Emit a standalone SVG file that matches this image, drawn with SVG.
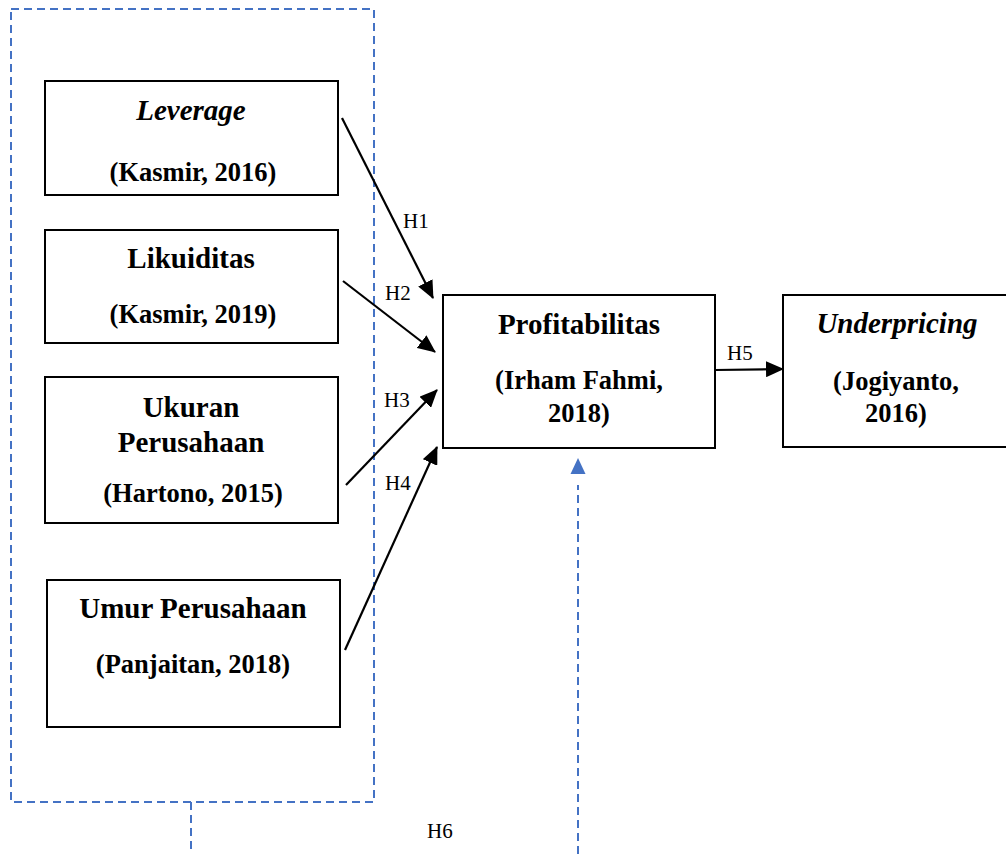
<svg xmlns="http://www.w3.org/2000/svg" width="1006" height="854" viewBox="0 0 1006 854">
<style>
.box{fill:#fff;stroke:#000;stroke-width:2}
.t{font-family:"Liberation Serif","Times New Roman",serif;font-weight:bold;font-size:29px;text-anchor:middle;fill:#000}
.c{font-family:"Liberation Serif","Times New Roman",serif;font-weight:bold;font-size:26.5px;text-anchor:middle;fill:#000}
.i{font-style:italic}
.h{font-family:"Liberation Serif","Times New Roman",serif;font-size:21px;fill:#000}
.ar{stroke:#000;stroke-width:2.2;fill:none;marker-end:url(#ah)}
.dash{stroke:#4472C4;stroke-width:2;fill:none;stroke-dasharray:8 5}
</style>
<defs>
<marker id="ah" markerUnits="userSpaceOnUse" markerWidth="18" markerHeight="16" refX="17" refY="8" orient="auto">
<path d="M0,0 L18,8 L0,16 Z" fill="#000"/>
</marker>
</defs>
<g id="moderation">
<rect class="dash" x="11" y="9" width="363" height="793"/>
<line class="dash" x1="191" y1="802" x2="191" y2="854"/>
<line class="dash" x1="578" y1="854" x2="578" y2="485"/>
<path d="M570.5,474 L578,458 L585.5,474 Z" fill="#4472C4"/>
</g>
<g id="leverage">
<rect class="box" x="45" y="81" width="293" height="114"/>
<text class="t i" x="191" y="120">Leverage</text>
<text class="c" x="193" y="181">(Kasmir, 2016)</text>
</g>
<g id="likuiditas">
<rect class="box" x="45" y="230" width="293" height="113"/>
<text class="t" x="191" y="268">Likuiditas</text>
<text class="c" x="193" y="323">(Kasmir, 2019)</text>
</g>
<g id="ukuran">
<rect class="box" x="45" y="377" width="293" height="146"/>
<text class="t" x="191" y="417">Ukuran</text>
<text class="t" x="191" y="452">Perusahaan</text>
<text class="c" x="193" y="502">(Hartono, 2015)</text>
</g>
<g id="umur">
<rect class="box" x="47" y="580" width="293" height="147"/>
<text class="t" x="193" y="618">Umur Perusahaan</text>
<text class="c" x="193" y="673">(Panjaitan, 2018)</text>
</g>
<g id="profitabilitas">
<rect class="box" x="443" y="295" width="272" height="153"/>
<text class="t" x="579" y="334">Profitabilitas</text>
<text class="c" x="579" y="389">(Irham Fahmi,</text>
<text class="c" x="579" y="422">2018)</text>
</g>
<g id="underpricing">
<rect class="box" x="783" y="295" width="230" height="152"/>
<text class="t i" x="897" y="333">Underpricing</text>
<text class="c" x="896" y="390">(Jogiyanto,</text>
<text class="c" x="896" y="422">2016)</text>
</g>
<g id="connectors">
<line class="ar" x1="342" y1="118" x2="433" y2="298"/>
<line class="ar" x1="343" y1="281" x2="435" y2="352"/>
<line class="ar" x1="346" y1="485" x2="437" y2="390"/>
<line class="ar" x1="345" y1="650" x2="437" y2="447"/>
<line class="ar" x1="715" y1="370" x2="783" y2="369"/>
<text class="h" x="403" y="228">H1</text>
<text class="h" x="385" y="300">H2</text>
<text class="h" x="384" y="407">H3</text>
<text class="h" x="385" y="490">H4</text>
<text class="h" x="727" y="360">H5</text>
<text class="h" x="427" y="838">H6</text>
</g>
</svg>
